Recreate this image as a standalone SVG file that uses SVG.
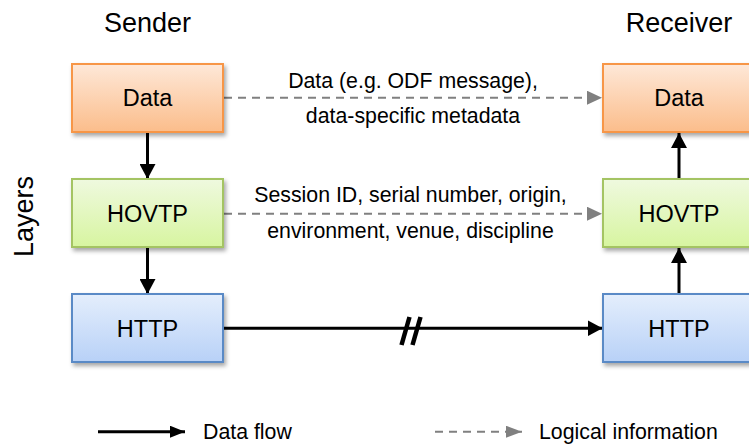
<svg xmlns="http://www.w3.org/2000/svg" width="749" height="444" viewBox="0 0 749 444">
  <style>
    text { font-family: "Liberation Sans", Arial, sans-serif; fill: #000; }
    .head { font-size: 27px; }
    .box-label { font-size: 23.5px; text-anchor: middle; }
    .info { font-size: 21.3px; text-anchor: middle; }
    .legend { font-size: 21.3px; }
    .flow { stroke: #000; stroke-width: 3; fill: none; }
    .logical { stroke: #808080; stroke-width: 2; stroke-dasharray: 8 6; fill: none; }
    .data-box { fill: url(#gradOrange); stroke: #f79646; stroke-width: 2; }
    .hovtp-box { fill: url(#gradGreen); stroke: #a4c464; stroke-width: 2; }
    .http-box { fill: url(#gradBlue); stroke: #5a8ac6; stroke-width: 2; }
  </style>
  <defs>
    <linearGradient id="gradOrange" x1="0" y1="0" x2="0" y2="1">
      <stop offset="0" stop-color="#fee8d8"/>
      <stop offset="1" stop-color="#fbbd8b"/>
    </linearGradient>
    <linearGradient id="gradGreen" x1="0" y1="0" x2="0" y2="1">
      <stop offset="0" stop-color="#eff9df"/>
      <stop offset="1" stop-color="#d7f5a0"/>
    </linearGradient>
    <linearGradient id="gradBlue" x1="0" y1="0" x2="0" y2="1">
      <stop offset="0" stop-color="#e4eefc"/>
      <stop offset="1" stop-color="#b8d1f7"/>
    </linearGradient>
    <filter id="shadow" x="-10%" y="-10%" width="130%" height="140%">
      <feDropShadow dx="2" dy="3" stdDeviation="2" flood-color="#000" flood-opacity="0.35"/>
    </filter>
    <marker id="arrowBlack" markerUnits="userSpaceOnUse" markerWidth="15" markerHeight="16" refX="15" refY="8" orient="auto">
      <path d="M0,0 L15,8 L0,16 Z" fill="#000"/>
    </marker>
    <marker id="arrowBlackSmall" markerUnits="userSpaceOnUse" markerWidth="15" markerHeight="12" refX="15" refY="6" orient="auto">
      <path d="M0,0 L15,6 L0,12 Z" fill="#000"/>
    </marker>
    <marker id="arrowGray" markerUnits="userSpaceOnUse" markerWidth="15" markerHeight="14" refX="15" refY="7" orient="auto">
      <path d="M0,0 L15,7 L0,14 Z" fill="#808080"/>
    </marker>
    <marker id="arrowGraySmall" markerUnits="userSpaceOnUse" markerWidth="16" markerHeight="12" refX="16" refY="6" orient="auto">
      <path d="M0,0 L16,6 L0,12 Z" fill="#808080"/>
    </marker>
  </defs>

  <rect x="0" y="0" width="749" height="444" fill="#fff"/>

  <!-- column and row headings -->
  <text class="head" x="147.5" y="32" text-anchor="middle">Sender</text>
  <text class="head" x="679" y="32" text-anchor="middle">Receiver</text>
  <text class="head" transform="translate(33,216.5) rotate(-90)" text-anchor="middle">Layers</text>

  <!-- connectors -->
  <g id="connectors">
    <line class="flow" x1="147.5" y1="133" x2="147.5" y2="179" marker-end="url(#arrowBlack)"/>
    <line class="flow" x1="147.5" y1="248" x2="147.5" y2="294" marker-end="url(#arrowBlack)"/>
    <line class="flow" x1="679" y1="294" x2="679" y2="248" marker-end="url(#arrowBlack)"/>
    <line class="flow" x1="679" y1="179" x2="679" y2="133" marker-end="url(#arrowBlack)"/>
    <line class="flow" x1="224" y1="328.3" x2="602.5" y2="328.3" marker-end="url(#arrowBlack)"/>
    <!-- break mark on the HTTP link -->
    <line x1="409.5" y1="317" x2="401.5" y2="345" stroke="#000" stroke-width="4.5"/>
    <line x1="420.5" y1="317" x2="412.5" y2="345" stroke="#000" stroke-width="4.5"/>

    <line class="logical" x1="224" y1="97.7" x2="602" y2="97.7" marker-end="url(#arrowGray)"/>
    <line class="logical" x1="224" y1="213.7" x2="602" y2="213.7" marker-end="url(#arrowGray)"/>
    <text class="info" x="413" y="88">Data (e.g. ODF message),</text>
    <text class="info" x="413" y="123.3">data-specific metadata</text>
    <text class="info" x="410.5" y="201.7">Session ID, serial number, origin,</text>
    <text class="info" x="410.5" y="238.3">environment, venue, discipline</text>
  </g>

  <!-- sender stack -->
  <g id="sender-data">
    <rect class="data-box" x="72" y="64" width="151" height="68" filter="url(#shadow)"/>
    <text class="box-label" x="147.5" y="106.4">Data</text>
  </g>
  <g id="sender-hovtp">
    <rect class="hovtp-box" x="72" y="179" width="151" height="68" filter="url(#shadow)"/>
    <text class="box-label" x="147.5" y="221.5">HOVTP</text>
  </g>
  <g id="sender-http">
    <rect class="http-box" x="72" y="294" width="151" height="68" filter="url(#shadow)"/>
    <text class="box-label" x="147.5" y="336.5">HTTP</text>
  </g>

  <!-- receiver stack -->
  <g id="receiver-data">
    <rect class="data-box" x="603" y="64" width="151" height="68" filter="url(#shadow)"/>
    <text class="box-label" x="679" y="106.4">Data</text>
  </g>
  <g id="receiver-hovtp">
    <rect class="hovtp-box" x="603" y="179" width="151" height="68" filter="url(#shadow)"/>
    <text class="box-label" x="679" y="221.5">HOVTP</text>
  </g>
  <g id="receiver-http">
    <rect class="http-box" x="603" y="294" width="151" height="68" filter="url(#shadow)"/>
    <text class="box-label" x="679" y="336.5">HTTP</text>
  </g>

  <!-- legend -->
  <g id="legend">
    <line class="flow" x1="98" y1="431.7" x2="185" y2="431.7" marker-end="url(#arrowBlackSmall)"/>
    <text class="legend" x="203" y="438.5">Data flow</text>
    <line class="logical" x1="435" y1="431.7" x2="522" y2="431.7" marker-end="url(#arrowGraySmall)"/>
    <text class="legend" x="539" y="438.5">Logical information</text>
  </g>
</svg>
